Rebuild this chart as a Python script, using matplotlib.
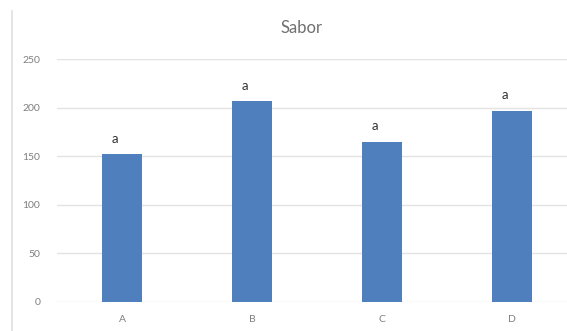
import matplotlib.pyplot as plt
from matplotlib.lines import Line2D

# Sabor scores per sample, with significance letters
samples = ["A", "B", "C", "D"]
sabor = [152, 207, 165, 197]
letters = ["a", "a", "a", "a"]
yticks = [0, 50, 100, 150, 200, 250]

plt.rcParams['font.family'] = ['Lato', 'DejaVu Sans']

fig = plt.figure(figsize=(5.67, 3.31), dpi=100)
ax = fig.add_axes([0.1005, 0.089, 0.917, 0.732])

x = range(len(samples))
bars = ax.bar(x, sabor, width=0.31, color='#4f7fbd', zorder=3)

# letters above each bar
for rect, letter in zip(bars, letters):
    ax.annotate(letter,
                (rect.get_x() + rect.get_width() / 2, rect.get_height()),
                xytext=(-5, 11), textcoords='offset points',
                ha='center', va='center', fontsize=9.5, color='#333333')

ax.set_xlim(-0.5, 3.5)
ax.set_ylim(0, 250)
ax.set_yticks(yticks)
ax.set_xticks(list(x))
ax.set_xticklabels(samples)
ax.yaxis.grid(True, color='#e3e3e3', lw=1, zorder=0)
for s in ax.spines.values():
    s.set_visible(False)
ax.tick_params(length=0, labelsize=7.5, labelcolor='#7f7f7f')
ax.tick_params(axis='y', pad=12)
ax.tick_params(axis='x', pad=10)

fig.text(0.532, 0.915, "Sabor", ha='center', va='center',
         fontsize=12, color='#6f6f6f')

# chart area border on the left
fig.add_artist(Line2D([12 / 567, 12 / 567], [0, 1 - 11 / 331],
                      transform=fig.transFigure, color='#e0e0e0', lw=1.2))

fig.savefig('out.png', dpi=100)
